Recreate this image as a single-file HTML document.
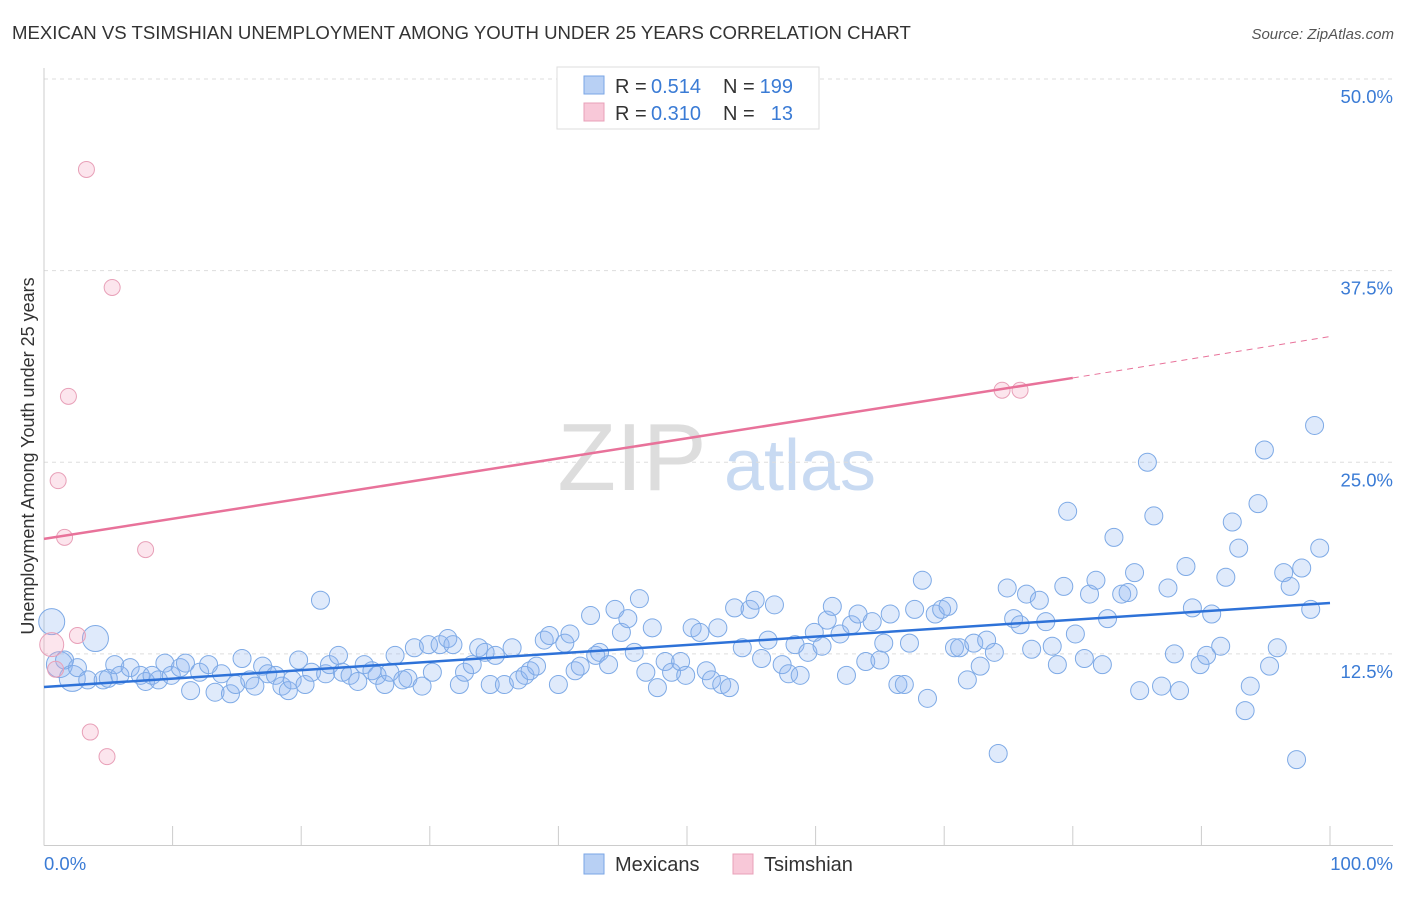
<!DOCTYPE html>
<html><head><meta charset="utf-8"><style>
body{margin:0;background:#fff;font-family:"Liberation Sans",sans-serif;}
svg text{font-family:"Liberation Sans",sans-serif;}
</style></head><body>
<svg id="chart" width="1406" height="892">
<text x="12" y="39" font-size="18.6" fill="#333">MEXICAN VS TSIMSHIAN UNEMPLOYMENT AMONG YOUTH UNDER 25 YEARS CORRELATION CHART</text>
<text x="1394" y="39" font-size="15" fill="#555" font-style="italic" text-anchor="end">Source: ZipAtlas.com</text>
<g>
<text x="632" y="490" font-size="96" fill="#ddd" font-family="Liberation Serif,serif" text-anchor="middle">ZIP</text>
<text x="800" y="490" font-size="72" fill="#c8daf2" text-anchor="middle">atlas</text>
</g>
<g id="grid"></g>
<g id="axes"></g>
<g id="pts"></g>
<g id="trends"></g>
<g>
<rect x="557" y="67" width="262" height="62" fill="#fff" stroke="#ddd"/>
<rect x="584" y="76" width="20" height="18" fill="#b8d0f4" stroke="#7aa6e6"/>
<text x="615" y="93" font-size="20" fill="#333">R =</text>
<text x="651" y="93" font-size="20" fill="#3a7bd5">0.514</text>
<text x="723" y="93" font-size="20" fill="#333">N =</text>
<text x="793" y="93" font-size="20" fill="#3a7bd5" text-anchor="end">199</text>
<rect x="584" y="103" width="20" height="18" fill="#f8c8d8" stroke="#e8a0b8"/>
<text x="615" y="120" font-size="20" fill="#333">R =</text>
<text x="651" y="120" font-size="20" fill="#3a7bd5">0.310</text>
<text x="723" y="120" font-size="20" fill="#333">N =</text>
<text x="793" y="120" font-size="20" fill="#3a7bd5" text-anchor="end">13</text>
</g>
<g>
<rect x="584" y="854" width="20" height="20" fill="#b8d0f4" stroke="#7aa6e6"/>
<text x="615" y="871" font-size="20" fill="#333">Mexicans</text>
<rect x="733" y="854" width="20" height="20" fill="#f8c8d8" stroke="#e8a0b8"/>
<text x="764" y="871" font-size="20" fill="#333">Tsimshian</text>
</g>
<text transform="translate(34,456) rotate(-90)" font-size="18" fill="#333" text-anchor="middle">Unemployment Among Youth under 25 years</text>
</svg>
<script>
const yTicks=[12.5,25,37.5,50];
const yTickLabels=["12.5%","25.0%","37.5%","50.0%"];
const blueX=[0.6,1.2,1.6,2.2,2.6,3.4,4.0,4.6,5.0,5.5,5.9,6.7,7.5,7.9,8.4,8.9,9.4,9.9,10.6,11.0,11.4,12.1,12.8,13.3,13.8,14.5,14.9,15.4,16.0,16.4,17.0,17.4,18.0,18.5,19.0,19.3,19.8,20.3,20.8,21.5,21.9,22.2,22.9,23.2,23.8,24.4,24.9,25.5,25.9,26.5,26.9,27.3,27.9,28.3,28.8,29.4,29.9,30.2,30.8,31.4,31.8,32.3,32.7,33.3,33.8,34.3,34.7,35.1,35.8,36.4,36.9,37.4,37.8,38.3,38.9,39.3,40.0,40.5,40.9,41.3,41.7,42.5,42.9,43.2,43.9,44.4,44.9,45.4,45.9,46.3,46.8,47.3,47.7,48.3,48.8,49.5,49.9,50.4,51.0,51.5,51.9,52.4,52.7,53.3,53.7,54.3,54.9,55.3,55.8,56.3,56.8,57.4,57.9,58.4,58.8,59.4,59.9,60.5,60.9,61.3,61.9,62.4,62.8,63.3,63.9,64.4,65.0,65.3,65.8,66.4,66.9,67.3,67.7,68.3,68.7,69.3,69.8,70.3,70.8,71.2,71.8,72.3,72.8,73.3,73.9,74.2,74.9,75.4,75.9,76.4,76.8,77.4,77.9,78.4,78.8,79.3,79.6,80.2,80.9,81.3,81.8,82.3,82.7,83.2,83.8,84.3,84.8,85.2,85.8,86.3,86.9,87.4,87.9,88.3,88.8,89.3,89.9,90.4,90.8,91.5,91.9,92.4,92.9,93.4,93.8,94.4,94.9,95.3,95.9,96.4,96.9,97.4,97.8,98.5,98.8,99.2];
const blueY=[14.6,11.8,12.1,10.9,11.6,10.8,13.5,10.8,10.9,11.8,11.1,11.6,11.1,10.7,11.1,10.8,11.9,11.1,11.6,11.9,10.1,11.3,11.8,10.0,11.2,9.9,10.5,12.2,10.8,10.4,11.7,11.2,11.1,10.4,10.1,10.8,12.1,10.5,11.3,16.0,11.2,11.8,12.4,11.3,11.1,10.7,11.8,11.4,11.1,10.5,11.3,12.4,10.8,10.9,12.9,10.4,13.1,11.3,13.1,13.5,13.1,10.5,11.3,11.8,12.9,12.6,10.5,12.4,10.5,12.9,10.8,11.1,11.4,11.7,13.4,13.7,10.5,13.2,13.8,11.4,11.7,15.0,12.4,12.6,11.8,15.4,13.9,14.8,12.6,16.1,11.3,14.2,10.3,12.0,11.3,12.0,11.1,14.2,13.9,11.4,10.8,14.2,10.5,10.3,15.5,12.9,15.4,16.0,12.2,13.4,15.7,11.8,11.2,13.1,11.1,12.6,13.9,13.0,14.7,15.6,13.8,11.1,14.4,15.1,12.0,14.6,12.1,13.2,15.1,10.5,10.5,13.2,15.4,17.3,9.6,15.1,15.4,15.6,12.9,12.9,10.8,13.2,11.7,13.4,12.6,6.0,16.8,14.8,14.4,16.4,12.8,16.0,14.6,13.0,11.8,16.9,21.8,13.8,12.2,16.4,17.3,11.8,14.8,20.1,16.4,16.5,17.8,10.1,25.0,21.5,10.4,16.8,12.5,10.1,18.2,15.5,11.8,12.4,15.1,13.0,17.5,21.1,19.4,8.8,10.4,22.3,25.8,11.7,12.9,17.8,16.9,5.6,18.1,15.4,27.4,19.4];
const bigBlue=[0,1,3,6];
const pinkX=[0.6,0.9,3.3,5.3,1.9,1.1,1.6,2.6,3.6,4.9,7.9,74.5,75.9];
const pinkY=[13.1,11.5,44.1,36.4,29.3,23.8,20.1,13.7,7.4,5.8,19.3,29.7,29.7];
const blueTrend=[[0,10.34],[100,15.82]];
const pinkTrend=[[0,20.0],[80,30.5],[100,33.2]];
const NS="http://www.w3.org/2000/svg";
const X=v=>44+v*12.86, Y=v=>845.5-v*15.33;
function mk(tag,attrs,parent){const e=document.createElementNS(NS,tag);for(const k in attrs)e.setAttribute(k,attrs[k]);parent.appendChild(e);return e;}
const grid=document.getElementById('grid'),axes=document.getElementById('axes'),pts=document.getElementById('pts'),tr=document.getElementById('trends');
yTicks.forEach((t,i)=>{
 const l=mk('line',{x1:44,x2:1393,y1:Y(t),y2:Y(t),stroke:'#ddd','stroke-dasharray':'4,4'},grid);
 
 
 const tx=mk('text',{x:1393,y:Y(t)+24,'font-size':18.5,fill:'#3a7bd5','text-anchor':'end'},axes);
 tx.textContent=yTickLabels[i];
 
 
});
const ax=mk('line',{x1:44,x2:1393,y1:845.5,y2:845.5,stroke:'#ccc'},axes);


const ay=mk('line',{x1:44,x2:44,y1:68,y2:845.5,stroke:'#ccc'},axes);


for(let i=0;i<=10;i++){const t=mk('line',{x1:X(i*10),x2:X(i*10),y1:826,y2:845.5,stroke:'#ccc'},axes);
 
 }
const xl0=mk('text',{x:44,y:870,'font-size':18.5,fill:'#3a7bd5'},axes);xl0.textContent='0.0%';


const xl1=mk('text',{x:1393,y:870,'font-size':18.5,fill:'#3a7bd5','text-anchor':'end'},axes);xl1.textContent='100.0%';


blueX.forEach((v,i)=>{const c=mk('circle',{cx:X(v),cy:Y(blueY[i]),r:bigBlue.includes(i)?13:9,fill:'rgba(140,180,240,0.28)',stroke:'#7eaae6','stroke-width':1},pts);
 
 });
pinkX.forEach((v,i)=>{const c=mk('circle',{cx:X(v),cy:Y(pinkY[i]),r:i===0?12:8,fill:'rgba(245,170,195,0.3)',stroke:'#e8a0b8','stroke-width':1},pts);
 
 });
const bt=mk('line',{x1:X(blueTrend[0][0]),y1:Y(blueTrend[0][1]),x2:X(blueTrend[1][0]),y2:Y(blueTrend[1][1]),stroke:'#2e72d8','stroke-width':2.5},tr);


const pt=mk('line',{x1:X(pinkTrend[0][0]),y1:Y(pinkTrend[0][1]),x2:X(pinkTrend[1][0]),y2:Y(pinkTrend[1][1]),stroke:'#e8729a','stroke-width':2.5},tr);


const pd=mk('line',{x1:X(pinkTrend[1][0]),y1:Y(pinkTrend[1][1]),x2:X(pinkTrend[2][0]),y2:Y(pinkTrend[2][1]),stroke:'#e8729a','stroke-width':1,'stroke-dasharray':'6,5'},tr);


</script>
</body></html>
